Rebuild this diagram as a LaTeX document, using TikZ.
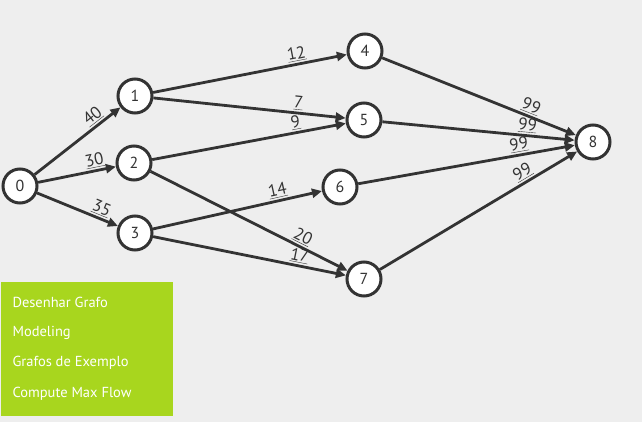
\documentclass[tikz,border=0pt]{standalone}
\usepackage{fontspec}
\setmainfont{PT Sans}
\usetikzlibrary{arrows.meta,positioning}
\definecolor{edgegray}{RGB}{51,51,51}
\definecolor{menugreen}{RGB}{168,214,30}
\definecolor{bggray}{RGB}{238,238,238}

\begin{document}
\begin{tikzpicture}[x=1pt,y=-1pt,
  every node/.style={font=\fontsize{16}{18}\selectfont},
  vertex/.style={circle,draw=edgegray,fill=white,line width=3pt,
                 minimum size=34pt,inner sep=0pt,text=edgegray},
  flow/.style={-{Triangle[length=10pt,width=9pt]},draw=edgegray,line width=2.8pt},
  capacity/.style={sloped,above,pos=0.75,text=edgegray,inner sep=1.5pt,
                   font=\fontsize{17}{19}\selectfont},
  menuitem/.style={anchor=west,text=white,font=\fontsize{14.5}{17}\selectfont}
]
  \fill[bggray] (0,0) rectangle (642,422);
  \useasboundingbox (0,0) rectangle (642,422);

  % vertices
  \node[vertex] (n0) at (20,186) {0};
  \node[vertex] (n1) at (135,96) {1};
  \node[vertex] (n2) at (134,163) {2};
  \node[vertex] (n3) at (135,233) {3};
  \node[vertex] (n4) at (365,51) {4};
  \node[vertex] (n5) at (364,120) {5};
  \node[vertex] (n6) at (340,187) {6};
  \node[vertex] (n7) at (364,279) {7};
  \node[vertex] (n8) at (593,142) {8};

  % capacities
  \draw[flow] (n0) -- node[capacity] {\underline{40}} (n1);
  \draw[flow] (n0) -- node[capacity] {\underline{30}} (n2);
  \draw[flow] (n0) -- node[capacity] {\underline{35}} (n3);
  \draw[flow] (n1) -- node[capacity] {\underline{12}} (n4);
  \draw[flow] (n1) -- node[capacity] {\underline{7}} (n5);
  \draw[flow] (n2) -- node[capacity] {\underline{9}} (n5);
  \draw[flow] (n2) -- node[capacity] {\underline{20}} (n7);
  \draw[flow] (n3) -- node[capacity] {\underline{14}} (n6);
  \draw[flow] (n3) -- node[capacity] {\underline{17}} (n7);
  \draw[flow] (n4) -- node[capacity] {\underline{99}} (n8);
  \draw[flow] (n5) -- node[capacity] {\underline{99}} (n8);
  \draw[flow] (n6) -- node[capacity] {\underline{99}} (n8);
  \draw[flow] (n7) -- node[capacity] {\underline{99}} (n8);

  % menu
  \node[fill=menugreen,minimum width=172pt,minimum height=134pt,
        inner sep=0pt,anchor=north west] (menu) at (1,282) {};
  \node[menuitem] (m1) at (9,302) {Desenhar Grafo};
  \node[menuitem] (m2) at (9,333) {Modeling};
  \node[menuitem] (m3) at (9,363) {Grafos de Exemplo};
  \node[menuitem] (m4) at (9,394) {Compute Max Flow};
\end{tikzpicture}
\end{document}
